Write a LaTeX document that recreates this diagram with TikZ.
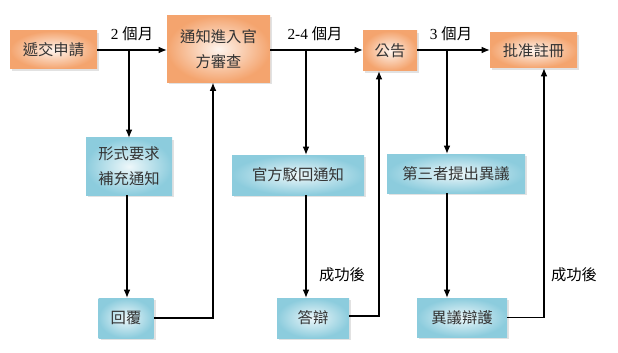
\documentclass[tikz,border=0pt]{standalone}
\usepackage{fontspec}
\setmainfont{Liberation Serif}
\newfontfamily\cjk{Noto Sans CJK TC}
\usepackage{tikz}
\usetikzlibrary{arrows.meta,calc,shadows}
\definecolor{boxorange}{HTML}{F4A46E}
\definecolor{boxblue}{HTML}{8CCCDD}
\definecolor{boxtext}{HTML}{333333}
\newdimen\pxu
\pxu=0.75pt

\begin{document}
\begin{tikzpicture}[x=0.75pt,y=-0.75pt,
    stagebox/.style={inner sep=0pt,align=center,text=boxtext,
      font=\cjk\fontsize{11.5}{19}\selectfont,
      drop shadow={shadow xshift=1.5pt,shadow yshift=-1.5pt,fill=gray!45}},
    mainbox/.style={stagebox,shading=radial,inner color=boxorange!12,outer color=boxorange},
    sidebox/.style={stagebox,shading=radial,inner color=boxblue!15,outer color=boxblue},
    flow/.style={draw=black,line width=0.8pt,-{Latex[length=6pt,width=5pt]}},
    note/.style={font=\fontsize{11.5}{14}\selectfont}]
    \useasboundingbox (0,0) rectangle (618,353);
    \node[mainbox,minimum width=87\pxu,minimum height=38\pxu] (submit) at (53.5,50) {遞交申請};
    \node[mainbox,minimum width=103\pxu,minimum height=67\pxu] (review) at (218.5,49) {通知進入官\\方審查};
    \node[mainbox,minimum width=54\pxu,minimum height=40\pxu] (publish) at (390,51) {公告};
    \node[mainbox,minimum width=87\pxu,minimum height=35\pxu] (grant) at (533.5,50.5) {批准註冊};
    \node[sidebox,minimum width=86\pxu,minimum height=57\pxu] (formal) at (129,166.5) {形式要求\\補充通知};
    \node[sidebox,minimum width=55\pxu,minimum height=40\pxu] (reply) at (126,318) {回覆};
    \node[sidebox,minimum width=132\pxu,minimum height=40\pxu] (reject) at (298,175) {官方駁回通知};
    \node[sidebox,minimum width=72\pxu,minimum height=40\pxu] (defend) at (313,318) {答辯};
    \node[sidebox,minimum width=138\pxu,minimum height=39\pxu] (oppose) at (456,173.5) {第三者提出異議};
    \node[sidebox,minimum width=90\pxu,minimum height=39\pxu] (opdefend) at (462,317.5) {異議辯護};
    \coordinate (fork1) at (129,50);
    \coordinate (fork2) at (306,50);
    \coordinate (fork3) at (447,50);
    \draw[flow] (submit.east |- fork1) -- (review.west |- fork1);
    \draw[flow] (review.east |- fork2) -- (publish.west |- fork2);
    \draw[flow] (publish.east |- fork3) -- (grant.west |- fork3);
    \draw[flow] (fork1) -- (fork1 |- formal.north);
    \draw[flow] ($(formal.south)+(-2,0)$) -- ($(formal.south |- reply.north)+(-2,0)$);
    \draw[flow] (reply.east) -| ($(review.south)+(-5.5,0)$);
    \draw[flow] (fork2) -- (fork2 |- reject.north);
    \draw[flow] (fork2 |- reject.south) -- (fork2 |- defend.north);
    \draw[flow] ([yshift=1.5]defend.east) -| ($(publish.south)+(-11,0)$);
    \draw[flow] (fork3) -- (fork3 |- oppose.north);
    \draw[flow] (fork3 |- oppose.south) -- (fork3 |- opdefend.north);
    \draw[flow] (opdefend.east) -| ($(grant.south)+(10.5,0)$);
    \node[note] (lab1) at (132,34) {2 {\cjk 個月}};
    \node[note] (lab2) at (315,34) {2-4 {\cjk 個月}};
    \node[note] (lab3) at (451,34) {3 {\cjk 個月}};
    \node[note,font=\cjk\fontsize{11.5}{14}\selectfont] (lab4) at (342,275) {成功後};
    \node[note,font=\cjk\fontsize{11.5}{14}\selectfont] (lab5) at (574,275) {成功後};
  \end{tikzpicture}
\end{document}
